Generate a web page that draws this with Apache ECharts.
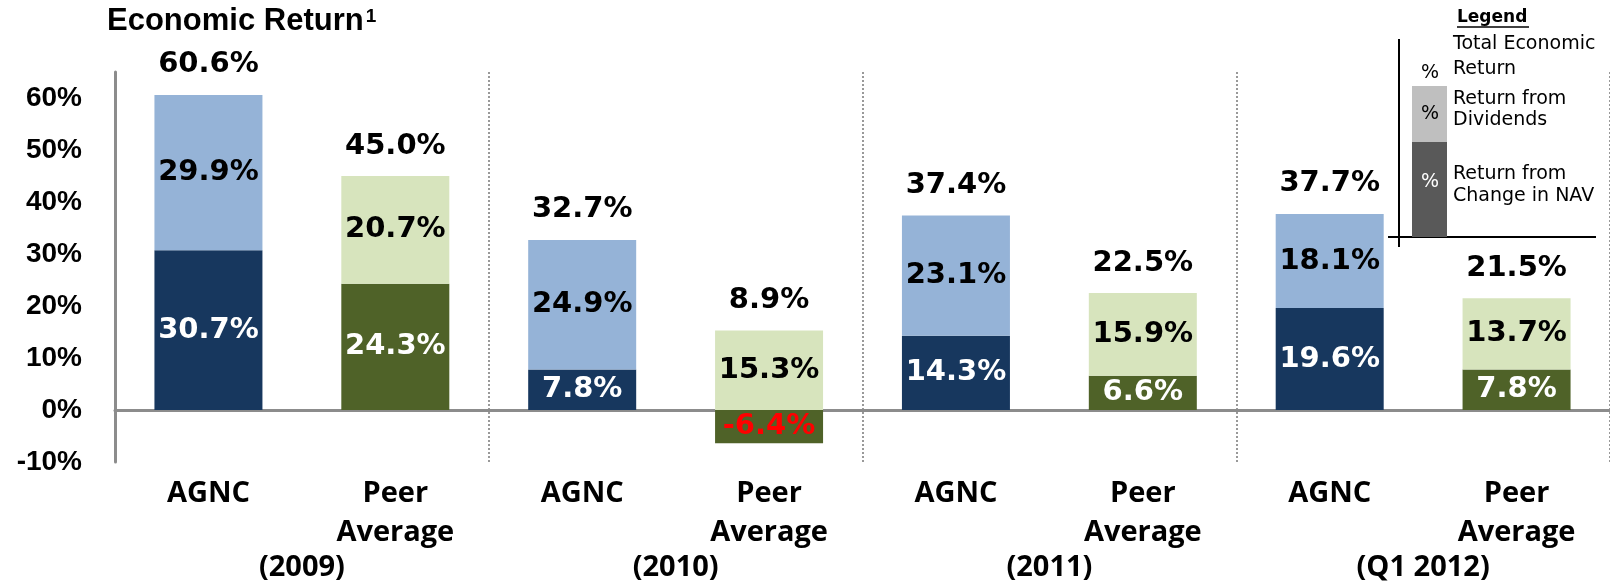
<!DOCTYPE html>
<html>
<head>
<meta charset="utf-8">
<title>Economic Return</title>
<script src="https://cdn.jsdelivr.net/npm/echarts@6/dist/echarts.min.js"></script>
<style>
  html, body { margin: 0; padding: 0; background: #fff; }
  #chart { width: 1610px; height: 586px; }
</style>
</head>
<body>
<div id="chart"></div>
<script>
// data
var categories = ['AGNC', 'Peer\nAverage', 'AGNC', 'Peer\nAverage', 'AGNC', 'Peer\nAverage', 'AGNC', 'Peer\nAverage'];
var periods = ['(2009)', '(2010)', '(2011)', '(Q1 2012)'];
var navChange = [30.7, 24.3, 7.8, -6.4, 14.3, 6.6, 19.6, 7.8];
var dividends = [29.9, 20.7, 24.9, 15.3, 23.1, 15.9, 18.1, 13.7];
var totals = [60.6, 45.0, 32.7, 8.9, 37.4, 22.5, 37.7, 21.5];
var yMin = -10, yMax = 65, yStep = 10;

var agncColors = ['#17375E', '#95B3D7'];
var peerColors = ['#4F6228', '#D7E4BD'];
var valueFont = 'DejaVu Sans';
var catFont = 'Open Sans';
var legendFont = '19px "DejaVu Sans"';

function pct(v) { return v.toFixed(1) + '%'; }

var chart = echarts.init(document.getElementById('chart'));

var option = {
    animation: false,
    title: {
        left: 107,
        top: 4,
        padding: 0,
        text: '{t|Economic Return}{s|1}',
        textStyle: {
            rich: {
                t: { fontFamily: 'Liberation Sans', fontWeight: 'bold', fontSize: 31, color: '#000', lineHeight: 34 },
                s: { fontFamily: 'Liberation Sans', fontWeight: 'bold', fontSize: 19, color: '#000', verticalAlign: 'top', lineHeight: 19, padding: [3, 0, 0, 2] }
            }
        }
    },
    grid: { left: 115, right: 0, top: 72, bottom: 124, outerBoundsMode: 'none' },
    xAxis: [
        {
            // zero line + dotted period dividers
            type: 'category',
            data: categories,
            axisLine: { show: true, onZero: true, lineStyle: { color: '#8C8C8C', width: 3 } },
            axisTick: { show: false },
            axisLabel: { show: false },
            splitLine: {
                show: true,
                interval: function (index) { return index > 0 && index % 2 === 0; },
                lineStyle: { color: '#999999', width: 2, type: 'dotted' }
            }
        },
        {
            type: 'category',
            data: categories,
            position: 'bottom',
            axisLine: { show: false, onZero: false },
            axisTick: { show: false },
            splitLine: { show: false },
            axisLabel: {
                interval: 0, margin: 12,
                fontFamily: catFont, fontWeight: 'bold', fontSize: 29, lineHeight: 39, color: '#000'
            }
        },
        {
            type: 'category',
            data: periods,
            position: 'bottom',
            axisLine: { show: false, onZero: false },
            axisTick: { show: false },
            splitLine: { show: false },
            axisLabel: {
                interval: 0, margin: 91,
                fontFamily: catFont, fontWeight: 'bold', fontSize: 29, lineHeight: 30, color: '#000'
            }
        }
    ],
    yAxis: {
        type: 'value',
        min: yMin,
        max: yMax,
        interval: yStep,
        axisLine: { show: true, lineStyle: { color: '#8C8C8C', width: 3 } },
        axisTick: { show: false },
        splitLine: { show: false },
        axisLabel: {
            showMaxLabel: false,
            margin: 33,
            formatter: '{value}%',
            fontFamily: 'Liberation Sans', fontWeight: 'bold', fontSize: 28, color: '#000'
        }
    },
    series: [
        {
            name: 'Return from Change in NAV',
            type: 'bar',
            stack: 'ret',
            barWidth: 108,
            silent: true,
            data: navChange.map(function (v, i) {
                return {
                    value: v,
                    itemStyle: { color: i % 2 ? peerColors[0] : agncColors[0] },
                    label: { color: v < 0 ? '#FF0000' : '#FFFFFF' }
                };
            }),
            label: {
                show: true, position: 'inside',
                formatter: function (p) { return pct(p.value); },
                fontFamily: valueFont, fontWeight: 'bold', fontSize: 29
            }
        },
        {
            name: 'Return from Dividends',
            type: 'bar',
            stack: 'ret',
            barWidth: 108,
            silent: true,
            data: dividends.map(function (v, i) {
                return { value: v, itemStyle: { color: i % 2 ? peerColors[1] : agncColors[1] } };
            }),
            label: {
                show: true, position: 'inside', color: '#000',
                formatter: function (p) { return pct(p.value); },
                fontFamily: valueFont, fontWeight: 'bold', fontSize: 29
            }
        },
        {
            // total labels sit on top of the positive part of each stack
            name: 'Total Economic Return',
            type: 'scatter',
            symbolSize: 1,
            silent: true,
            itemStyle: { color: 'rgba(0,0,0,0)', opacity: 1 },
            data: dividends.map(function (d, i) { return Math.max(navChange[i], 0) + d; }),
            label: {
                show: true, position: 'top', distance: 15, color: '#000',
                formatter: function (p) { return pct(totals[p.dataIndex]); },
                fontFamily: valueFont, fontWeight: 'bold', fontSize: 29
            }
        }
    ],
    graphic: [
        { type: 'text', left: 1457, top: 9, style: { text: 'Legend', font: 'bold 17px "DejaVu Sans"', fill: '#000' } },
        { type: 'line', shape: { x1: 1457, y1: 27, x2: 1529, y2: 27 }, style: { stroke: '#000', lineWidth: 1.5 } },
        { type: 'line', shape: { x1: 1399, y1: 39, x2: 1399, y2: 247 }, style: { stroke: '#000', lineWidth: 2 } },
        { type: 'line', shape: { x1: 1388, y1: 237, x2: 1596, y2: 237 }, style: { stroke: '#000', lineWidth: 2 } },
        { type: 'rect', shape: { x: 1412, y: 86, width: 35, height: 56 }, style: { fill: '#BFBFBF' } },
        { type: 'rect', shape: { x: 1412, y: 142, width: 35, height: 95 }, style: { fill: '#595959' } },
        { type: 'text', x: 1430, y: 73, style: { text: '%', font: legendFont, fill: '#000', align: 'center', verticalAlign: 'middle' } },
        { type: 'text', x: 1430, y: 114, style: { text: '%', font: legendFont, fill: '#000', align: 'center', verticalAlign: 'middle' } },
        { type: 'text', x: 1430, y: 182, style: { text: '%', font: legendFont, fill: '#FFFFFF', align: 'center', verticalAlign: 'middle' } },
        { type: 'text', x: 1453, y: 44, style: { text: 'Total Economic', font: legendFont, fill: '#000', verticalAlign: 'middle' } },
        { type: 'text', x: 1453, y: 69, style: { text: 'Return', font: legendFont, fill: '#000', verticalAlign: 'middle' } },
        { type: 'text', x: 1453, y: 99, style: { text: 'Return from', font: legendFont, fill: '#000', verticalAlign: 'middle' } },
        { type: 'text', x: 1453, y: 120, style: { text: 'Dividends', font: legendFont, fill: '#000', verticalAlign: 'middle' } },
        { type: 'text', x: 1453, y: 174, style: { text: 'Return from', font: legendFont, fill: '#000', verticalAlign: 'middle' } },
        { type: 'text', x: 1453, y: 196, style: { text: 'Change in NAV', font: legendFont, fill: '#000', verticalAlign: 'middle' } }
    ]
};

chart.setOption(option);
</script>
</body>
</html>
